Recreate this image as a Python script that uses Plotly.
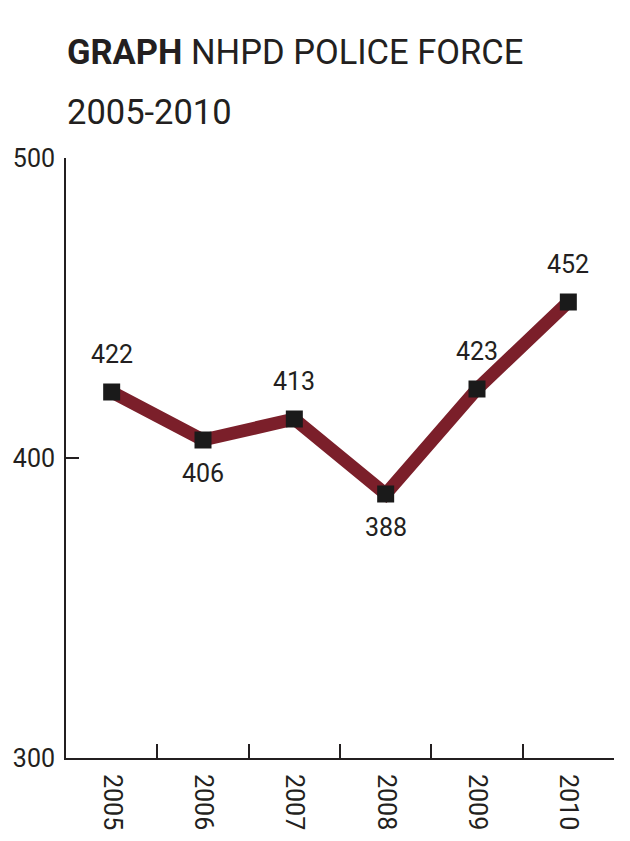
import plotly.graph_objects as go

# --- data ---
years = ["2005", "2006", "2007", "2008", "2009", "2010"]
officers = [422, 406, 413, 388, 423, 452]
label_above = [True, False, True, False, True, True]
y_ticks = [300, 400, 500]

FONT = "Roboto, Noto Sans, sans-serif"
INK = "#231f20"

fig = go.Figure()

# maroon line underneath
fig.add_trace(go.Scatter(
    x=years, y=officers, mode="lines",
    line=dict(color="#7b1f2a", width=13),
    hoverinfo="skip", showlegend=False,
))

# square markers
fig.add_trace(go.Scatter(
    x=years, y=officers, mode="markers",
    marker=dict(symbol="square", size=17, color="#1a1a1a"),
    showlegend=False,
))

# value labels, above or below the point (x as category index)
for i, (v, up) in enumerate(zip(officers, label_above)):
    fig.add_annotation(
        x=i, y=v, text=str(v), showarrow=False,
        yshift=38 if up else -33,
        font=dict(family=FONT, size=25, color=INK),
    )

# two line title
fig.add_annotation(
    xref="paper", yref="paper", x=-0.002, y=(750 - 44) / 600,
    xanchor="left", yanchor="middle", showarrow=False,
    text="<b>GRAPH</b> NHPD POLICE FORCE",
    font=dict(family=FONT, size=34.5, color=INK),
)
fig.add_annotation(
    xref="paper", yref="paper", x=-0.002, y=(750 - 104) / 600,
    xanchor="left", yanchor="middle", showarrow=False,
    text="2005-2010",
    font=dict(family=FONT, size=34.5, color=INK),
)

fig.update_layout(
    width=630, height=841,
    margin=dict(l=58, r=24, t=150, b=91),
    paper_bgcolor="white", plot_bgcolor="white",
    font=dict(family=FONT, color=INK),
)

fig.update_xaxes(
    type="category", range=[-0.5, 5.5], automargin=False,
    showline=True, linecolor=INK, linewidth=2,
    ticks="inside", tickson="boundaries", ticklen=14, tickwidth=2, tickcolor=INK,
    tickangle=90, tickfont=dict(family=FONT, size=25, color=INK),
    ticklabelstandoff=9,
    showgrid=False, zeroline=False,
)
fig.update_yaxes(
    range=[300, 500], tickvals=y_ticks, automargin=False,
    showline=True, linecolor=INK, linewidth=2,
    ticks="inside", ticklen=13, tickwidth=2, tickcolor=INK,
    tickfont=dict(family=FONT, size=25, color=INK),
    ticklabelstandoff=4,
    showgrid=False, zeroline=False,
)

fig.write_html("out.html")
